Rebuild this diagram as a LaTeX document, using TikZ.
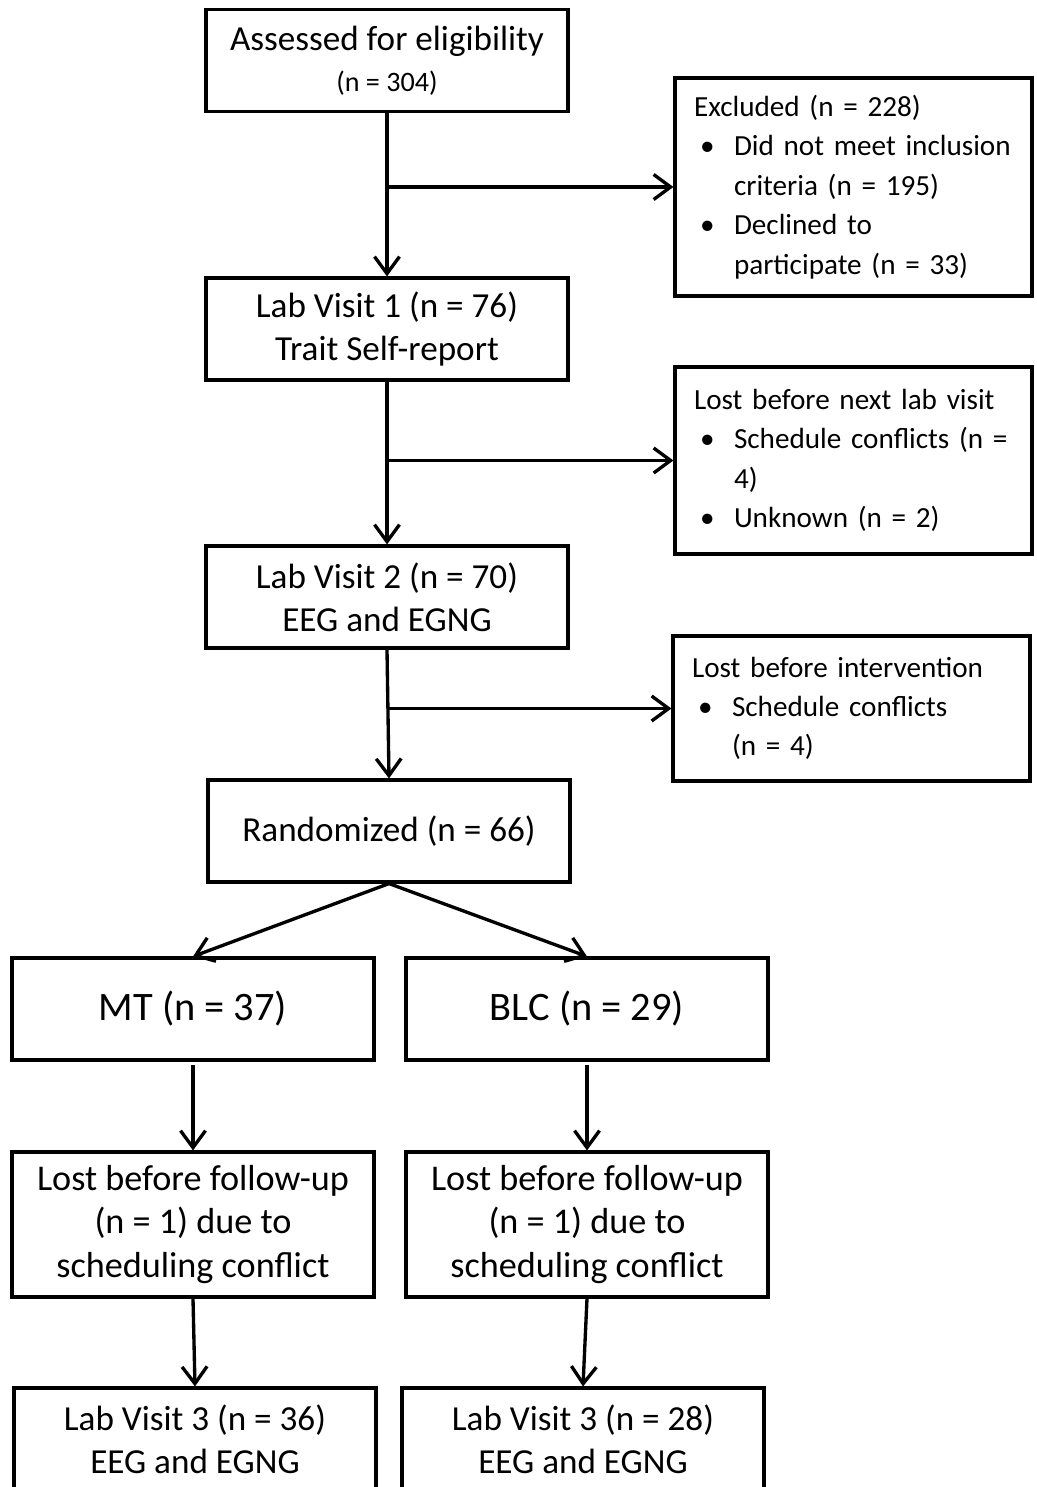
\documentclass[tikz,border=0pt]{standalone}
\usepackage{fontspec}
\setmainfont{Carlito}
\usetikzlibrary{arrows.meta,positioning,calc}

\newcommand{\itm}[1]{\makebox[0.8cm][l]{\hspace{0.12cm}\textbullet}\mbox{#1}}
\newcommand{\cnt}[1]{\hspace*{0.8cm}\mbox{#1}}

\begin{document}
\begin{tikzpicture}[x=0.02cm,y=-0.02cm]
  % Define styles
  \tikzstyle{stage} = [rectangle, draw, line width=1.8pt, minimum width=7.24cm, minimum height=2.04cm, align=center, font=\fontsize{20}{24.5}\selectfont]
  \tikzstyle{side} = [rectangle, draw, line width=1.8pt, inner xsep=0.38cm, text width=6.38cm, align=left, font=\fontsize{16.6}{22.4}\selectfont]
  \tikzstyle{arrow} = [line width=1.9pt, -{Straight Barb[length=3.4mm,width=5mm]}]

  % Page frame
  \useasboundingbox (0,0) rectangle (1037,1487);
  \clip (0,0) rectangle (1037,1487);

  % Main column
  \node [stage] (assess) at (387,60.5) {Assessed for eligibility\\[-0.05cm]{\fontsize{16}{19}\selectfont (n = 304)}};
  \node [stage] (lab1) at (387,329) {Lab Visit 1 (n = 76)\\Trait Self-report};
  \node [stage] (lab2) at (387,597) {Lab Visit 2 (n = 70)\\EEG and EGNG};
  \node [stage] (rand) at (389,831) {Randomized (n = 66)};

  % Exclusions on the right
  \node [side, minimum height=4.36cm] (excl) at (853.5,187) {Excluded (n = 228)\\
    \itm{Did not meet inclusion}\\ \cnt{criteria (n = 195)}\\
    \itm{Declined to}\\ \cnt{participate (n = 33)}};
  \node [side, minimum height=3.74cm] (lost1) at (853.5,460.5) {Lost before next lab visit\\
    \itm{Schedule conflicts (n =}\\ \cnt{4)}\\
    \itm{Unknown (n = 2)}};
  \node [side, minimum height=2.9cm] (lost2) at (851.5,708.5) {Lost before intervention\\
    \itm{Schedule conflicts}\\ \cnt{(n = 4)}};

  % Two arms
  \node [stage, font=\fontsize{23}{28}\selectfont] (mt) at (193,1009) {MT (n = 37)};
  \node [stage, font=\fontsize{23}{28}\selectfont] (blc) at (587,1009) {BLC (n = 29)};
  \node [stage, minimum height=2.9cm, font=\fontsize{20.6}{24.5}\selectfont] (lostmt) at (193,1224.5) {Lost before follow-up\\(n = 1) due to\\scheduling conflict};
  \node [stage, minimum height=2.9cm, font=\fontsize{20.6}{24.5}\selectfont] (lostblc) at (587,1224.5) {Lost before follow-up\\(n = 1) due to\\scheduling conflict};
  \node [stage] (lab3mt) at (195,1439) {Lab Visit 3 (n = 36)\\EEG and EGNG};
  \node [stage] (lab3blc) at (583,1439) {Lab Visit 3 (n = 28)\\EEG and EGNG};

  % Flow down the main column
  \draw [arrow] (assess.south) -- (lab1.north);
  \draw [arrow] (lab1.south) -- (lab2.north);
  \draw [arrow] (lab2.south) -- (rand.north);

  % Branches to the right
  \coordinate (fork1) at (assess.south |- excl.west);
  \coordinate (fork2) at (lab1.south |- lost1.west);
  \coordinate (fork3) at (lab2.south |- lost2.west);
  \draw [arrow] (fork1) -- (excl.west);
  \draw [arrow] (fork2) -- (lost1.west);
  \draw [arrow] (fork3) -- (lost2.west);

  % Randomization split
  \draw [arrow] (rand.south) -- (mt.north);
  \draw [arrow] (rand.south) -- (blc.north);
  \draw [arrow, shorten <=2pt] (mt.south) -- (lostmt.north);
  \draw [arrow, shorten <=2pt] (blc.south) -- (lostblc.north);
  \draw [arrow] (lostmt.south) -- (lab3mt.north);
  \draw [arrow] (lostblc.south) -- (lab3blc.north);

\end{tikzpicture}
\end{document}
